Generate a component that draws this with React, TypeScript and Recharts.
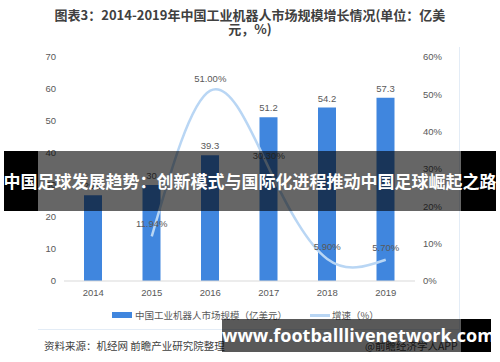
import {
  Bar,
  ComposedChart,
  LabelList,
  Line,
  XAxis,
  YAxis
} from 'recharts';

const years = ['2014', '2015', '2016', '2017', '2018', '2019'];
const marketSize = [26.8, 30, 39.3, 51.2, 54.2, 57.3];
const growthRate: (number | null)[] = [null, 11.94, 51.0, 30.3, 5.9, 5.7];
const leftTicks = [0, 10, 20, 30, 40, 50, 60, 70];
const rightTicks = [0, 10, 20, 30, 40, 50, 60];

const data = years.map((year, i) => ({
  year,
  size: marketSize[i],
  growth: growthRate[i]
}));

const FONT = '"Liberation Sans", "Noto Sans CJK SC", sans-serif';
const CJK = '"Noto Sans CJK SC", sans-serif';
const BAR = '#4086de';
const LINE = '#b9d6f4';
const TEXT = '#595959';

const abs = (style: React.CSSProperties): React.CSSProperties => ({ position: 'absolute', ...style });

const App = () => {
  return (
    <div style={{ position: 'absolute', left: 0, top: 0, width: 500, height: 362, background: '#fff', overflow: 'hidden', fontFamily: CJK }}>
      <div style={abs({ left: 0, top: 8, width: 500, textAlign: 'center', fontSize: 13, fontWeight: 700, lineHeight: '13.5px', color: '#404040' })}>
        图表3：2014-2019年中国工业机器人市场规模增长情况(单位：亿美<br />元，%)
      </div>

      {/* chart frame */}
      <div style={abs({ left: 459, top: 47, width: 1, height: 283, background: '#e3ecf6' })} />
      <div style={abs({ left: 38, top: 329, width: 422, height: 1, background: '#e3ecf6' })} />

      <ComposedChart
        width={500}
        height={362}
        data={data}
        margin={{ top: 57, right: 0, left: 0, bottom: 51 }}
        style={{ position: 'absolute', left: 0, top: 0 }}
      >
        <XAxis
          dataKey="year"
          tickLine={false}
          axisLine={{ stroke: '#d9d9d9' }}
          tick={{ fill: TEXT, fontSize: 9.5, fontFamily: FONT }}
          height={30}
        />
        <YAxis
          yAxisId="left"
          domain={[0, 70]}
          ticks={leftTicks}
          axisLine={false}
          tickLine={false}
          width={64}
          tick={{ fill: TEXT, fontSize: 9.5, fontFamily: FONT }}
        />
        <YAxis
          yAxisId="right"
          orientation="right"
          domain={[0, 60]}
          ticks={rightTicks}
          axisLine={false}
          tickLine={false}
          width={85}
          tickFormatter={(v) => `${v}%`}
          tick={{ fill: TEXT, fontSize: 9.5, fontFamily: FONT, textAnchor: 'start' }}
        />
        <Bar yAxisId="left" dataKey="size" fill={BAR} barSize={18} isAnimationActive={false}>
          <LabelList dataKey="size" position="top" offset={6} fill={TEXT} fontSize={9.5} fontFamily={FONT} />
        </Bar>
        <Line
          yAxisId="right"
          type="natural"
          dataKey="growth"
          stroke={LINE}
          strokeWidth={2.5}
          dot={false}
          activeDot={false}
          isAnimationActive={false}
        >
          <LabelList
            dataKey="growth"
            position="top"
            offset={9}
            fill={TEXT}
            fontSize={9.5}
            fontFamily={FONT}
            formatter={(v: any) => (v == null ? '' : `${Number(v).toFixed(2)}%`)}
          />
        </Line>
      </ComposedChart>

      {/* legend */}
      <div style={abs({ left: 112, top: 312, width: 20, height: 6, background: BAR })} />
      <div style={abs({ left: 135, top: 308, fontSize: 9.5, lineHeight: '14px', color: TEXT, whiteSpace: 'nowrap' })}>中国工业机器人市场规模（亿美元）</div>
      <div style={abs({ left: 310, top: 314, width: 20, height: 2.5, background: LINE })} />
      <div style={abs({ left: 332, top: 308, fontSize: 9.5, lineHeight: '14px', color: TEXT, whiteSpace: 'nowrap' })}>增速（%）</div>

      {/* source */}
      <div style={abs({ left: 44, top: 339, fontSize: 10.5, lineHeight: '14px', color: '#404040', whiteSpace: 'nowrap' })}>资料来源：机经网 前瞻产业研究院整理</div>
      <div style={abs({ left: 365, top: 339, fontSize: 10.5, lineHeight: '14px', color: '#404040', whiteSpace: 'nowrap' })}>@前瞻经济学人APP</div>

      {/* overlay banner */}
      <div style={abs({ left: 4, top: 151, width: 34, height: 60, background: '#000' })} />
      <div style={abs({ left: 38, top: 151, width: 423, height: 60, background: 'rgba(0,0,0,0.6)' })} />
      <div style={abs({ left: 461, top: 151, width: 35, height: 60, background: '#000' })} />
      <div style={abs({ left: 0, top: 151, width: 500, height: 60, lineHeight: '60px', textAlign: 'center', color: '#fff', fontSize: 17, fontWeight: 700, whiteSpace: 'nowrap' })}>
        中国足球发展趋势：创新模式与国际化进程推动中国足球崛起之路
      </div>

      {/* bottom banner */}
      <div style={abs({ left: 222, top: 319, width: 239, height: 33, background: 'rgba(0,0,0,0.65)' })} />
      <div style={abs({ left: 461, top: 319, width: 30, height: 33, background: '#000' })} />
      <div style={abs({ left: 222, top: 319, width: 269, height: 33, lineHeight: '33px', textAlign: 'center', color: '#fff', fontSize: 18, fontWeight: 700, fontFamily: '"Open Sans", sans-serif', whiteSpace: 'nowrap' })}>
        www.footballlivenetwork.com
      </div>
    </div>
  );
};

export default App;
